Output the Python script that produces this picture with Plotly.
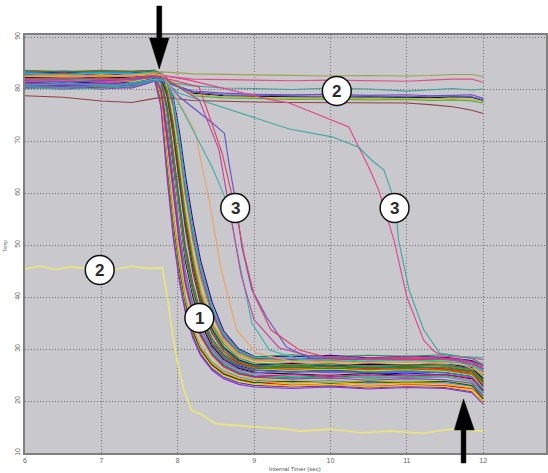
import plotly.graph_objects as go

# ---------------- data ----------------
# shared time grid for the main bundle (group 1)
t_bundle = [6.0, 6.5, 7.0, 7.4, 7.7, 7.78, 7.86, 7.94, 8.02, 8.1, 8.2, 8.3, 8.45, 8.6, 8.8, 9.0,
            9.5, 10.0, 10.5, 11.0, 11.5, 11.85, 12.0]

d01 = [82.0, 82.3, 81.9, 82.2, 82.6, 78.0, 66.0, 55.0, 46.0, 39.0, 33.5, 30.0, 27.0, 25.3, 24.2, 23.6, 23.0, 23.2, 22.8, 23.1, 22.9, 22.4, 20.5]
d02 = [81.2, 81.0, 81.4, 81.1, 82.0, 80.0, 71.0, 61.0, 51.0, 43.0, 37.0, 33.0, 29.3, 27.0, 25.5, 24.8, 24.5, 24.9, 24.4, 24.6, 24.8, 24.0, 21.8]
d03 = [82.8, 83.0, 82.7, 82.9, 83.2, 81.5, 76.0, 67.0, 57.0, 48.5, 41.0, 36.0, 31.0, 28.5, 26.8, 26.0, 25.6, 25.9, 25.5, 25.2, 25.6, 24.8, 22.9]
d04 = [80.6, 80.9, 80.5, 80.8, 81.9, 82.5, 79.5, 73.0, 64.0, 55.0, 46.5, 40.0, 34.0, 30.5, 28.0, 27.0, 26.6, 27.0, 26.5, 26.8, 26.9, 26.1, 24.5]
d05 = [83.3, 83.1, 83.4, 83.2, 83.5, 83.0, 81.5, 77.5, 70.0, 61.0, 52.0, 45.0, 37.5, 32.5, 29.5, 28.2, 28.0, 28.4, 27.9, 28.1, 28.3, 27.6, 26.0]
d06 = [81.9, 81.6, 82.0, 81.7, 82.4, 79.5, 70.0, 59.5, 49.5, 42.0, 36.0, 32.0, 28.5, 26.3, 25.0, 24.3, 23.8, 24.1, 23.7, 24.0, 23.8, 23.2, 20.8]
d07 = [82.4, 82.1, 82.5, 82.2, 82.8, 81.0, 75.0, 65.5, 55.5, 47.0, 40.0, 35.0, 30.5, 28.0, 26.3, 25.5, 25.2, 25.0, 25.3, 24.9, 25.1, 24.3, 22.0]
d08 = [80.3, 80.0, 80.4, 80.2, 81.5, 77.0, 64.0, 52.5, 44.0, 37.5, 32.5, 29.0, 26.2, 24.6, 23.5, 23.0, 22.7, 22.9, 22.5, 22.8, 22.6, 21.8, 19.8]
d09 = [83.0, 83.2, 82.9, 83.1, 83.4, 82.8, 80.0, 74.0, 65.5, 56.5, 48.0, 41.5, 35.0, 31.5, 28.8, 27.8, 27.4, 27.7, 27.2, 27.5, 27.3, 26.6, 24.8]
d10 = [81.5, 81.8, 81.4, 81.6, 82.3, 81.2, 75.5, 66.0, 56.0, 47.5, 40.5, 35.5, 30.8, 28.2, 26.5, 25.8, 26.2, 25.7, 26.0, 25.8, 26.1, 25.4, 23.6]
d11 = [82.6, 82.9, 82.5, 82.8, 83.0, 80.5, 72.0, 62.0, 52.0, 44.0, 38.0, 33.5, 29.8, 27.4, 25.8, 25.2, 24.8, 25.1, 24.6, 24.9, 24.7, 24.0, 22.2]
d12 = [81.0, 80.7, 81.1, 80.8, 81.8, 82.6, 81.0, 76.5, 68.5, 59.5, 50.5, 43.5, 36.5, 32.0, 29.2, 28.0, 27.8, 28.1, 27.6, 27.9, 27.7, 27.0, 25.2]
d13 = [83.4, 83.1, 83.5, 83.2, 83.4, 78.5, 67.0, 56.0, 47.0, 40.0, 34.0, 30.5, 27.5, 25.8, 24.6, 24.0, 23.6, 23.9, 23.4, 23.7, 23.5, 22.9, 21.0]
d14 = [80.8, 81.0, 80.6, 80.9, 81.8, 81.4, 76.5, 68.0, 58.0, 49.5, 42.0, 37.0, 32.0, 29.2, 27.4, 26.6, 26.3, 26.0, 26.4, 26.1, 26.3, 25.5, 23.2]
d15 = [82.2, 82.0, 82.3, 82.1, 82.7, 82.4, 79.0, 72.0, 63.0, 54.0, 45.5, 39.0, 33.5, 30.0, 27.6, 26.7, 26.4, 26.7, 26.2, 26.5, 26.2, 25.6, 23.8]
d16 = [81.6, 81.3, 81.7, 81.4, 82.2, 80.2, 71.5, 61.5, 51.5, 43.5, 37.5, 33.2, 29.5, 27.2, 25.6, 25.0, 24.6, 24.3, 24.7, 24.4, 24.6, 23.7, 21.4]
d17 = [82.9, 83.2, 82.8, 83.0, 83.4, 83.1, 82.0, 78.5, 72.0, 63.5, 54.5, 47.0, 39.0, 33.5, 30.0, 28.6, 28.5, 28.8, 28.3, 28.6, 28.4, 27.8, 26.8]
d18 = [81.4, 81.7, 81.3, 81.5, 82.1, 77.5, 65.0, 54.0, 45.0, 38.5, 33.0, 29.6, 26.6, 25.0, 23.9, 23.3, 22.9, 23.2, 22.7, 23.0, 22.8, 22.0, 19.6]
d19 = [83.1, 82.8, 83.2, 82.9, 83.3, 81.8, 76.8, 68.0, 58.5, 50.0, 42.5, 37.0, 32.0, 29.0, 27.2, 26.5, 26.9, 26.5, 26.8, 26.6, 26.9, 26.2, 24.4]
d20 = [80.4, 80.7, 80.3, 80.6, 81.7, 82.3, 78.5, 71.0, 62.0, 53.0, 44.5, 38.5, 33.0, 29.6, 27.3, 26.4, 26.0, 26.3, 25.8, 26.1, 25.9, 25.2, 23.0]
d21 = [83.2, 83.5, 83.1, 83.3, 83.5, 80.8, 72.5, 63.0, 53.0, 45.0, 38.5, 34.0, 30.0, 27.6, 26.0, 25.4, 25.8, 25.4, 25.7, 25.5, 25.8, 25.0, 22.6]
d22 = [81.8, 81.5, 81.9, 81.6, 82.5, 81.0, 75.0, 66.5, 56.5, 48.0, 40.8, 35.8, 31.2, 28.6, 27.0, 26.2, 25.9, 26.2, 25.8, 26.0, 25.7, 24.9, 22.5]
d23 = [82.5, 82.7, 82.4, 82.6, 83.1, 82.9, 81.2, 77.0, 69.5, 60.5, 51.5, 44.5, 37.0, 32.3, 29.4, 28.3, 28.1, 27.8, 28.2, 27.9, 28.1, 27.5, 25.6]
d24 = [82.1, 81.8, 82.2, 81.9, 82.5, 77.8, 65.5, 54.5, 45.5, 38.8, 33.2, 29.8, 26.9, 25.2, 24.1, 23.5, 23.8, 23.4, 23.7, 23.5, 23.8, 23.0, 20.4]
d25 = [81.3, 81.0, 81.4, 81.1, 82.0, 82.2, 79.2, 72.5, 63.5, 54.5, 46.0, 39.8, 33.8, 30.3, 27.9, 26.9, 27.2, 26.8, 27.1, 26.9, 27.2, 26.4, 24.2]
d26 = [83.6, 83.3, 83.6, 83.4, 83.6, 81.6, 76.2, 67.5, 57.5, 49.0, 41.5, 36.3, 31.5, 28.8, 27.1, 26.4, 26.1, 26.4, 26.0, 26.3, 26.0, 25.3, 23.4]
d27 = [80.1, 80.4, 80.0, 80.3, 81.6, 79.8, 70.5, 60.5, 50.5, 42.5, 36.5, 32.5, 28.8, 26.6, 25.2, 24.6, 24.2, 24.5, 24.0, 24.3, 24.1, 23.4, 21.0]
d28 = [81.7, 82.0, 81.6, 81.9, 82.6, 82.8, 81.3, 77.8, 71.0, 62.0, 53.0, 46.0, 38.0, 33.0, 29.8, 28.5, 28.9, 28.5, 28.8, 28.6, 28.9, 28.2, 27.0]
d29 = [82.7, 82.4, 82.8, 82.5, 82.9, 78.2, 66.5, 55.5, 46.5, 39.5, 34.0, 30.3, 27.3, 25.6, 24.4, 23.8, 23.4, 23.7, 23.2, 23.5, 23.3, 22.5, 20.0]
d30 = [80.9, 81.2, 80.8, 81.0, 81.9, 81.3, 75.8, 66.8, 56.8, 48.3, 41.0, 36.0, 31.0, 28.4, 26.6, 25.9, 25.5, 25.8, 25.4, 25.7, 25.4, 24.6, 22.3]
d31 = [82.3, 82.6, 82.2, 82.5, 83.0, 82.7, 79.8, 73.5, 64.5, 55.5, 47.0, 40.5, 34.5, 31.0, 28.3, 27.3, 26.9, 27.2, 26.7, 27.0, 26.8, 26.0, 24.0]
d32 = [81.1, 80.8, 81.2, 80.9, 81.9, 79.8, 70.8, 60.8, 50.8, 42.8, 36.8, 32.8, 29.0, 26.8, 25.3, 24.7, 25.1, 24.7, 25.0, 24.8, 25.1, 24.4, 22.0]
d33 = [83.0, 82.8, 83.1, 82.9, 83.3, 83.0, 81.8, 78.0, 70.5, 61.5, 52.5, 45.5, 37.8, 32.8, 29.6, 28.4, 28.2, 28.5, 28.0, 28.3, 28.1, 27.4, 25.8]
d34 = [82.0, 82.2, 81.9, 82.1, 82.7, 81.7, 76.3, 67.3, 57.3, 48.8, 41.3, 36.2, 31.3, 28.7, 27.0, 26.2, 26.6, 26.2, 26.5, 26.3, 26.6, 25.8, 23.8]
d35 = [80.7, 80.5, 80.8, 80.6, 81.7, 76.5, 63.0, 51.5, 43.0, 37.0, 32.0, 28.7, 25.9, 24.3, 23.2, 22.7, 22.4, 22.7, 22.3, 22.6, 22.4, 21.6, 19.4]
d36 = [83.5, 83.3, 83.5, 83.4, 83.6, 82.6, 79.3, 72.8, 63.8, 54.8, 46.2, 39.6, 33.6, 30.1, 27.7, 26.8, 26.5, 26.8, 26.3, 26.6, 26.4, 25.7, 23.6]

# group 2: runs that never cool down (top)
t_top = [6.0, 6.5, 7.0, 7.4, 7.7, 7.8, 8.2, 8.6, 9.0, 9.5, 10.0, 10.5, 11.0, 11.3, 11.6, 11.85, 12.0]
top_olive = [82.6, 82.8, 82.5, 82.7, 83.2, 83.3, 82.9, 82.8, 82.7, 82.6, 82.5, 82.6, 82.5, 82.6, 82.8, 82.8, 82.4]
top_pink = [81.5, 81.7, 81.4, 81.6, 82.5, 82.6, 81.9, 81.8, 81.7, 81.6, 81.7, 81.6, 81.5, 81.7, 81.9, 81.9, 81.3]
top_teal = [80.5, 80.3, 80.6, 80.4, 81.8, 81.5, 80.6, 80.2, 80.1, 79.9, 80.2, 80.0, 79.6, 79.9, 80.1, 79.8, 80.0]
top_purple = [81.0, 80.8, 81.1, 80.9, 81.6, 81.4, 79.6, 79.2, 79.0, 78.9, 79.0, 78.8, 78.9, 78.7, 78.8, 78.9, 78.2]
top_black = [82.2, 82.0, 82.3, 82.1, 82.5, 82.2, 79.2, 78.7, 78.6, 78.5, 78.4, 78.5, 78.4, 78.3, 78.5, 78.4, 77.8]
top_green = [81.8, 82.0, 81.7, 81.9, 82.3, 82.0, 78.7, 78.3, 78.2, 78.0, 78.1, 77.9, 78.0, 77.8, 77.9, 77.7, 77.3]
top_gold = [82.4, 82.6, 82.3, 82.5, 82.8, 82.5, 79.0, 78.5, 78.4, 78.2, 78.3, 78.1, 78.2, 78.1, 78.2, 78.0, 77.6]
top_blue = [80.9, 81.1, 80.8, 81.0, 81.7, 81.5, 79.4, 78.9, 78.8, 78.7, 78.6, 78.7, 78.5, 78.6, 78.7, 78.5, 77.9]
top_brown = [78.7, 78.4, 77.7, 77.4, 78.2, 78.4, 77.8, 77.6, 77.5, 77.4, 77.4, 77.3, 77.3, 77.0, 76.6, 75.9, 75.3]

# group 2: low flat run (yellow)
t_yellow = [6.0, 6.2, 6.4, 6.6, 6.8, 7.0, 7.2, 7.4, 7.6, 7.8, 7.87, 7.93, 8.0, 8.08, 8.18, 8.3, 8.5,
            9.0, 9.4, 9.6, 10.0, 10.4, 10.8, 11.2, 11.6, 12.0]
y_yellow = [45.4, 45.9, 45.3, 45.8, 45.5, 46.0, 45.4, 45.9, 45.5, 45.6, 39.4, 33.1, 27.3, 22.1, 18.2, 17.5, 15.6,
            15.0, 14.6, 14.2, 14.6, 13.9, 14.2, 13.8, 14.6, 14.2]

# group 3: late cooling runs
t_r_pink = [6.0, 6.6, 7.2, 7.7, 7.8, 8.15, 8.7, 9.2, 9.46, 10.02, 10.24, 10.37, 10.5, 10.63, 10.76, 10.83,
            11.0, 11.22, 11.35, 11.48, 11.8, 12.0]
y_r_pink = [81.3, 81.5, 81.2, 82.4, 82.6, 81.7, 79.8, 78.0, 77.3, 74.0, 72.7, 68.8, 65.0, 60.6, 54.2, 51.0,
            40.0, 31.7, 29.6, 28.6, 28.4, 27.9]
t_r_teal = [6.0, 6.6, 7.2, 7.7, 7.8, 8.02, 8.5, 9.0, 9.46, 10.02, 10.37, 10.54, 10.7, 10.76, 10.83, 10.87,
            10.89, 11.03, 11.22, 11.43, 11.7, 12.0]
y_r_teal = [80.2, 80.0, 80.3, 81.5, 81.8, 79.2, 76.9, 74.6, 72.3, 70.8, 68.8, 66.3, 64.4, 61.9, 58.7, 54.2,
            51.0, 41.3, 33.7, 29.2, 28.6, 28.3]
t_l_blue = [6.0, 6.6, 7.2, 7.7, 7.83, 8.02, 8.45, 8.61, 8.67, 8.77, 8.84, 8.97, 9.16, 9.42, 9.72, 10.3, 11.0, 11.6, 12.0]
y_l_blue = [81.6, 81.4, 81.7, 82.2, 81.7, 78.5, 73.5, 71.5, 65.8, 57.3, 49.6, 41.4, 36.2, 30.4, 28.3, 28.0, 28.3, 27.9, 26.5]
t_l_red = [6.0, 6.6, 7.2, 7.7, 7.83, 8.28, 8.58, 8.77, 8.87, 9.0, 9.22, 9.59, 9.98, 10.6, 11.2, 11.7, 12.0]
y_l_red = [82.0, 82.2, 81.9, 82.6, 82.1, 80.4, 67.7, 55.8, 48.1, 40.4, 33.7, 29.8, 28.3, 28.0, 28.2, 27.8, 26.3]
t_l_orange = [6.0, 6.6, 7.2, 7.7, 7.8, 7.89, 8.22, 8.41, 8.57, 8.77, 9.03, 9.5, 10.2, 11.0, 11.7, 12.0]
y_l_orange = [82.5, 82.3, 82.6, 82.9, 82.7, 80.8, 72.1, 58.7, 45.2, 33.7, 29.2, 27.6, 27.3, 27.5, 27.1, 25.4]
t_l_teal = [6.0, 6.6, 7.2, 7.7, 7.83, 8.06, 8.45, 8.67, 8.8, 8.97, 9.2, 9.6, 10.3, 11.0, 11.7, 12.0]
y_l_teal = [80.8, 81.0, 80.7, 81.9, 81.7, 76.0, 65.0, 57.3, 47.1, 35.0, 29.8, 28.0, 27.6, 27.8, 27.4, 25.9]
t_l_magenta = [6.0, 6.6, 7.2, 7.7, 7.83, 8.28, 8.54, 8.70, 8.83, 9.0, 9.33, 9.72, 10.4, 11.1, 11.7, 12.0]
y_l_magenta = [81.9, 82.1, 81.8, 82.5, 82.1, 77.9, 68.3, 54.8, 44.2, 35.6, 30.2, 28.7, 28.2, 28.5, 28.0, 26.8]

x_ticks = [6, 7, 8, 9, 10, 11, 12]
y_ticks = [10, 20, 30, 40, 50, 60, 70, 80, 90]
x_title = "Internal Timer (sec)"
y_title = "Temp"
callouts = ["2", "2", "3", "3", "1"]

# ---------------- styling ----------------
bundle = [d01, d02, d03, d04, d05, d06, d07, d08, d09, d10, d11, d12, d13, d14, d15, d16, d17, d18,
          d19, d20, d21, d22, d23, d24, d25, d26, d27, d28, d29, d30, d31, d32, d33, d34, d35, d36]
bundle_colors = ['#ff0000', '#00b000', '#0000ff', '#00c8c8', '#d000d0', '#c8c800', '#000000', '#7030a0',
                 '#ff8000', '#8b4513', '#ff69b4', '#32cd32', '#1e90ff', '#9acd32', '#dc143c', '#20b2aa',
                 '#4b0082', '#e6d200', '#008080', '#b22222', '#6a5acd', '#7fff00', '#ff1493', '#006400',
                 '#00008b', '#ff4500', '#9932cc', '#2e8b57', '#ffa500', '#4169e1', '#808000', '#c71585',
                 '#00ced1', '#556b2f', '#8a2be2', '#228b22']

fig = go.Figure()

def add_line(x, y, color, width=1.1, dash='solid'):
    fig.add_trace(go.Scatter(x=x, y=y, mode='lines', line=dict(color=color, width=width, dash=dash),
                             showlegend=False, hoverinfo='skip'))

for yv, c in zip(bundle, bundle_colors):
    add_line(t_bundle, yv, c)

top_series = [(top_olive, '#a0a050'), (top_pink, '#e0508a'), (top_teal, '#40a0a0'),
              (top_purple, '#8040c0'), (top_black, '#101010'), (top_green, '#40b040'),
              (top_gold, '#d0b030'), (top_blue, '#4060d0'), (top_brown, '#904040')]
for yv, c in top_series:
    add_line(t_top, yv, c)

late = [(t_r_pink, y_r_pink, '#e8408c'), (t_r_teal, y_r_teal, '#40a8a0'),
        (t_l_blue, y_l_blue, '#6050d0'), (t_l_red, y_l_red, '#e04060'),
        (t_l_orange, y_l_orange, '#f0a060'), (t_l_teal, y_l_teal, '#40b0b0'),
        (t_l_magenta, y_l_magenta, '#c040a0')]
for xv, yv, c in late:
    add_line(xv, yv, c)

add_line(t_yellow, y_yellow, '#ece67a', width=1.6)

# pixel helpers for overlay decorations (plot area: x 25..548, y 35..453)
L, R, T, B = 25, 548, 35, 453
def pxx(p):
    return (p - L) / (R - L)
def pxy(p):
    return (B - p) / (B - T)

shapes = []
callout_pos = [(338, 91), (100, 270), (236, 208), (396, 208), (200, 318)]
annotations = []
for (cx, cy), txt in zip(callout_pos, callouts):
    r = 14.5
    shapes.append(dict(type='circle', xref='paper', yref='paper',
                       x0=pxx(cx - r), x1=pxx(cx + r), y0=pxy(cy + r), y1=pxy(cy - r),
                       fillcolor='white', line=dict(color='#111111', width=1.5), layer='above'))
    annotations.append(dict(xref='paper', yref='paper', x=pxx(cx), y=pxy(cy + 0.5), text='<b>%s</b>' % txt,
                            showarrow=False, font=dict(size=17, color='#2a2a2a', family='Liberation Sans'),
                            xanchor='center', yanchor='middle'))

def arrow_path(pts):
    return 'M ' + ' L '.join('%f,%f' % (pxx(a), pxy(b)) for a, b in pts) + ' Z'

down_arrow = [(157.3, 6), (162.3, 6), (162.3, 38), (169.5, 38), (159.8, 69), (150, 38), (157.3, 38)]
up_arrow = [(462.8, 463), (467.6, 463), (467.6, 430), (476, 430), (465.2, 399), (456, 430), (462.8, 430)]
for pts in (down_arrow, up_arrow):
    shapes.append(dict(type='path', xref='paper', yref='paper', path=arrow_path(pts),
                       fillcolor='black', line=dict(color='black', width=0.5), layer='above'))

annotations.append(dict(xref='paper', yref='paper', x=pxx(296), y=pxy(469), text=x_title, showarrow=False,
                        font=dict(size=6, color='#555555', family='Liberation Sans'),
                        xanchor='center', yanchor='middle'))
annotations.append(dict(xref='paper', yref='paper', x=pxx(5), y=pxy(246), text=y_title, showarrow=False,
                        textangle=-90, font=dict(size=5, color='#777777', family='Liberation Sans'),
                        xanchor='center', yanchor='middle'))

x_max = 6 + (R - L) / 76.67
y_max = 10 + (B - T) / 5.2

axis_common = dict(showline=True, mirror=True, linecolor='#808080', linewidth=2,
                   showgrid=True, gridcolor='#707070', griddash='1px,2px', gridwidth=1,
                   zeroline=False, ticks='', tickfont=dict(size=7, color='#666666', family='Liberation Sans'))

fig.update_layout(
    width=548, height=473, autosize=False,
    margin=dict(l=L, r=548 - R, t=T, b=473 - B, pad=0),
    paper_bgcolor='white', plot_bgcolor='#c9c8cc',
    xaxis=dict(range=[6, x_max], tickvals=x_ticks, ticktext=[str(v) for v in x_ticks], **axis_common),
    yaxis=dict(range=[10, y_max], tickvals=y_ticks, ticktext=[str(v) for v in y_ticks], tickangle=-90,
               **axis_common),
    shapes=shapes, annotations=annotations,
)

fig.write_html("out.html")
